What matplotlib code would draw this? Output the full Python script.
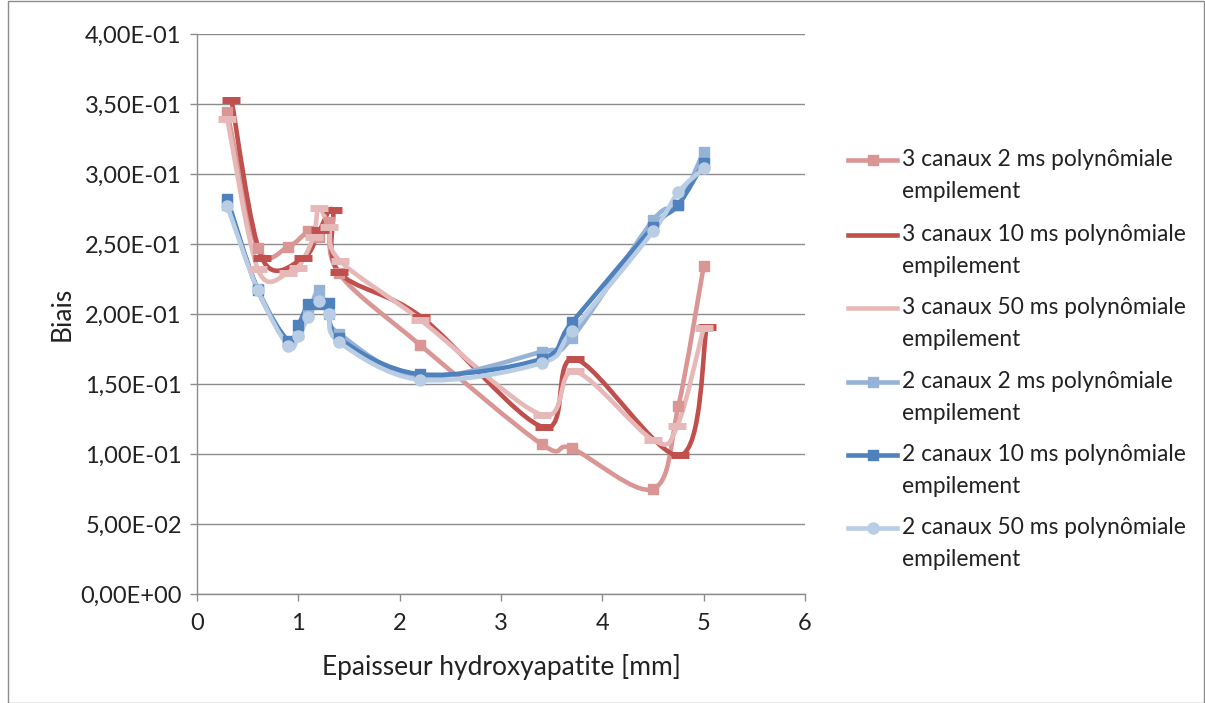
import numpy as np
import matplotlib
matplotlib.use("Agg")
import matplotlib.pyplot as plt
from matplotlib.path import Path
from matplotlib.patches import PathPatch, Rectangle
from matplotlib.lines import Line2D
from matplotlib.ticker import FuncFormatter

plt.rcParams['font.family'] = ['Lato', 'DejaVu Sans']

# ---- data ----
x_3c_2 = [0.3, 0.6, 0.9, 1.1, 1.2, 1.3, 1.4, 2.2, 3.4, 3.7, 4.5, 4.75, 5.0]
y_3c_2 = [0.344, 0.247, 0.248, 0.259, 0.255, 0.266, 0.229, 0.178, 0.107, 0.104, 0.075, 0.134, 0.234]

x_3c_10 = [0.34, 0.64, 1.05, 1.21, 1.34, 1.4, 2.21, 3.42, 3.73, 4.77, 5.03]
y_3c_10 = [0.353, 0.240, 0.240, 0.260, 0.274, 0.230, 0.198, 0.119, 0.168, 0.099, 0.191]

x_3c_50 = [0.3, 0.6, 0.9, 1.0, 1.15, 1.2, 1.3, 1.41, 2.2, 3.4, 3.73, 4.5, 4.74, 5.0]
y_3c_50 = [0.339, 0.232, 0.229, 0.233, 0.255, 0.276, 0.262, 0.238, 0.196, 0.128, 0.159, 0.110, 0.120, 0.190]

x_2c = [0.3, 0.6, 0.9, 1.0, 1.1, 1.2, 1.3, 1.4, 2.2, 3.4, 3.7, 4.5, 4.75, 5.0]
y_2c_2 = [0.278, 0.218, 0.180, 0.186, 0.200, 0.217, 0.200, 0.186, 0.155, 0.173, 0.183, 0.267, 0.278, 0.316]
y_2c_10 = [0.282, 0.217, 0.181, 0.192, 0.207, 0.207, 0.208, 0.183, 0.157, 0.168, 0.194, 0.262, 0.278, 0.308]
y_2c_50 = [0.277, 0.217, 0.177, 0.184, 0.198, 0.209, 0.200, 0.180, 0.153, 0.165, 0.188, 0.259, 0.287, 0.304]

labels = [
    "3 canaux 2 ms polynômiale\nempilement",
    "3 canaux 10 ms polynômiale\nempilement",
    "3 canaux 50 ms polynômiale\nempilement",
    "2 canaux 2 ms polynômiale\nempilement",
    "2 canaux 10 ms polynômiale\nempilement",
    "2 canaux 50 ms polynômiale\nempilement",
]
colors = ["#D99694", "#C0504D", "#E6B9B8", "#95B3D7", "#4F81BD", "#B9CDE5"]
markers = ["s", "_", "_", "s", "s", "o"]

series = [
    (x_3c_2, y_3c_2), (x_3c_10, y_3c_10), (x_3c_50, y_3c_50),
    (x_2c, y_2c_2), (x_2c, y_2c_10), (x_2c, y_2c_50),
]

x_ticks = [0, 1, 2, 3, 4, 5, 6]
y_ticks = [0.0, 0.05, 0.10, 0.15, 0.20, 0.25, 0.30, 0.35, 0.40]


def smooth_path(x, y):
    pts = np.column_stack([x, y]).astype(float)
    n = len(pts)
    verts = [pts[0]]
    codes = [Path.MOVETO]
    for i in range(n - 1):
        p0 = pts[i - 1] if i > 0 else pts[i]
        p1 = pts[i]
        p2 = pts[i + 1]
        p3 = pts[i + 2] if i + 2 < n else pts[i + 1]
        c1 = p1 + (p2 - p0) / 6.0
        c2 = p2 - (p3 - p1) / 6.0
        verts += [c1, c2, p2]
        codes += [Path.CURVE4] * 3
    return Path(verts, codes)


W, H = 1205, 703
fig = plt.figure(figsize=(W / 100, H / 100), dpi=100)
ax = fig.add_axes([197 / W, 1 - 594 / H, (805 - 197) / W, (594 - 34) / H])

ax.set_xlim(0, 6)
ax.set_ylim(0, 0.4)
ax.set_xticks(x_ticks)
ax.set_yticks(y_ticks)
ax.yaxis.set_major_formatter(FuncFormatter(lambda v, p: ("%.2E" % v).replace(".", ",")))
ax.grid(axis="y", color="#8C8C8C", linewidth=1.0)
ax.set_axisbelow(True)
for s in ["top", "right"]:
    ax.spines[s].set_visible(False)
for s in ["left", "bottom"]:
    ax.spines[s].set_color("#8C8C8C")
    ax.spines[s].set_linewidth(1.0)
ax.tick_params(axis="both", colors="#8C8C8C", length=5, width=1.0, labelsize=17,
               labelcolor="#222222")
ax.tick_params(axis="x", pad=9)
ax.tick_params(axis="y", pad=6)
ax.set_xlabel("Epaisseur hydroxyapatite [mm]", fontsize=19, color="#222222", labelpad=14)
ax.set_ylabel("Biais", fontsize=19, color="#222222", labelpad=4)

lw = 3.3
for (x, y), c, m in zip(series, colors, markers):
    patch = PathPatch(smooth_path(x, y), fill=False, edgecolor=c, linewidth=lw,
                      capstyle="round", joinstyle="round", zorder=3)
    ax.add_patch(patch)
    if m == "_":
        ax.plot(x, y, linestyle="none", marker="_", markersize=13, markeredgewidth=5,
                color=c, zorder=4)
    elif m == "o":
        ax.plot(x, y, linestyle="none", marker="o", markersize=8, color=c, zorder=4)
    else:
        ax.plot(x, y, linestyle="none", marker="s", markersize=7.5, color=c, zorder=4)

# ---- manual legend ----
fs_leg = 16.4
row_y = [160, 235, 308, 382, 455, 528]
for ry, lab, c, m in zip(row_y, labels, colors, markers):
    yf = 1 - ry / H
    fig.add_artist(Line2D([848 / W, 897 / W], [yf, yf], color=c, linewidth=lw,
                          transform=fig.transFigure))
    if m in ("s", "o"):
        fig.add_artist(Line2D([872.5 / W], [yf], color=c, marker=m,
                              markersize=7.5 if m == "s" else 8, linestyle="none",
                              transform=fig.transFigure))
    fig.text(902 / W, 1 - (ry - 11) / H, lab, fontsize=fs_leg, color="#222222",
             va="top", linespacing=1.62, transform=fig.transFigure)

# figure border
fig.add_artist(Rectangle((8 / W, 0), (W - 9) / W, (H - 1) / H, fill=False,
                         edgecolor="#8C8C8C", linewidth=1.0, transform=fig.transFigure))

fig.savefig("out.png", dpi=100)
